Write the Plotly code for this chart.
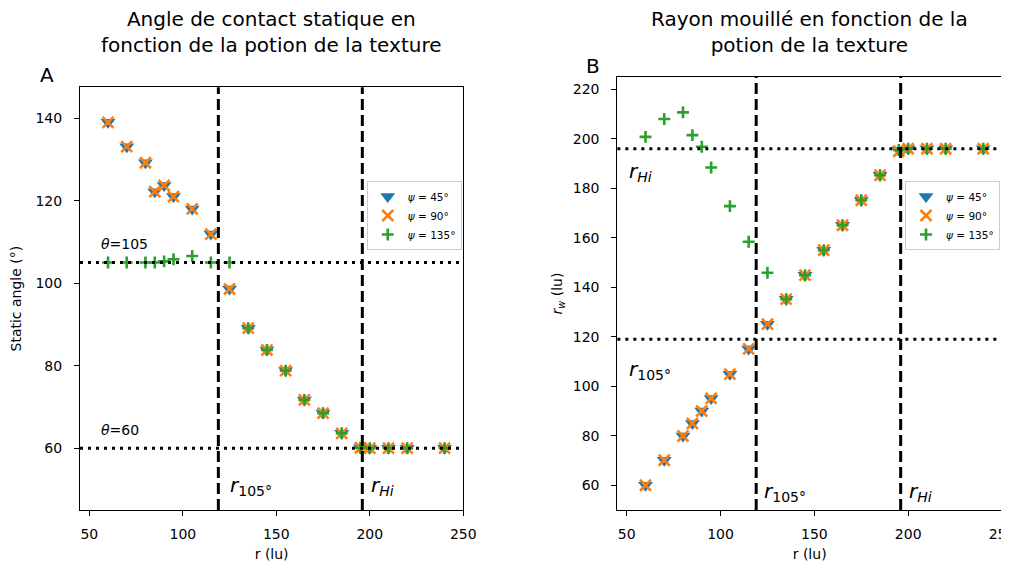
import plotly.graph_objects as go
from plotly.subplots import make_subplots

# texture radius r (lu), same positions in both panels
r = [60, 70, 80, 85, 90, 95, 105, 115, 125, 135, 145, 155, 165, 175, 185, 195, 200, 210, 220, 240]

# A: static contact angle (deg)
angle_45 = [139.0, 133.1, 129.2, 122.2, 123.7, 121.0, 118.0, 111.9, 98.6, 89.1,
            83.8, 78.8, 71.7, 68.5, 63.6, 60.1, 60.0, 60.0, 60.0, 60.0]
angle_90 = [139.0, 133.1, 129.2, 122.2, 123.7, 121.0, 118.0, 111.9, 98.6, 89.1,
            83.8, 78.8, 71.7, 68.5, 63.6, 60.1, 60.0, 60.0, 60.0, 60.0]
angle_135 = [105.0, 105.0, 105.0, 105.0, 105.3, 105.8, 106.6, 105.0, 105.0, 89.1,
             83.8, 78.8, 71.7, 68.5, 63.6, 60.1, 60.0, 60.0, 60.0, 60.0]

# B: wetted radius r_w (lu)
rw_45 = [60.0, 70.1, 79.9, 85.0, 90.0, 95.1, 104.9, 115.1, 125.1, 135.2,
         144.9, 155.0, 165.1, 175.2, 185.3, 195.5, 196.0, 196.0, 196.0, 196.0]
rw_90 = [60.0, 70.1, 79.9, 85.0, 90.0, 95.1, 104.9, 115.1, 125.1, 135.2,
         144.9, 155.0, 165.1, 175.2, 185.3, 195.0, 196.0, 196.0, 196.0, 196.0]
rw_135 = [200.8, 208.0, 210.7, 201.5, 196.8, 188.4, 172.8, 158.4, 145.9, 135.2,
          144.9, 155.0, 165.1, 175.2, 185.3, 195.5, 196.0, 196.0, 196.0, 196.0]

psi_names = ["<i>ψ</i> = 45°", "<i>ψ</i> = 90°", "<i>ψ</i> = 135°"]

# reference levels
r_105 = 119
r_hi = 196
theta_hi = 105
theta_lo = 60

blue, orange, green = "#1f77b4", "#ff7f0e", "#2ca02c"
font = "DejaVu Sans"

markers = [
    dict(symbol="triangle-down", size=13, color=blue),
    dict(symbol="x-thin", size=11, color=orange, line=dict(color=orange, width=2.6)),
    dict(symbol="cross-thin", size=8.5, color=green, line=dict(color=green, width=2.6)),
]

fig = make_subplots(rows=1, cols=2)

for ys, name, mk in zip([angle_45, angle_90, angle_135], psi_names, markers):
    fig.add_trace(go.Scatter(x=r, y=ys, mode="markers", name=name, marker=mk,
                             legend="legend"), row=1, col=1)
for ys, name, mk in zip([rw_45, rw_90, rw_135], psi_names, markers):
    fig.add_trace(go.Scatter(x=r, y=ys, mode="markers", name=name, marker=mk,
                             legend="legend2"), row=1, col=2)

dashed = dict(color="black", width=3, dash="11px,5px")
dotted = dict(color="black", width=3, dash="3px,5px")

for xv in [r_105, r_hi]:
    fig.add_vline(x=xv, line=dashed, row=1, col=1)
    fig.add_vline(x=xv, line=dashed, row=1, col=2)
for yv in [theta_hi, theta_lo]:
    fig.add_hline(y=yv, line=dotted, row=1, col=1)
for yv in [r_hi, r_105]:
    fig.add_hline(y=yv, line=dotted, row=1, col=2)

axis_style = dict(showline=True, linecolor="black", linewidth=1, mirror=True,
                  ticks="outside", ticklen=5, tickcolor="black", showgrid=False,
                  zeroline=False, automargin=False, ticklabeloverflow="allow",
                  tickfont=dict(size=14, color="black"))

fig.update_xaxes(axis_style)
fig.update_yaxes(axis_style)
fig.update_xaxes(range=[45, 250], tick0=0, dtick=50, ticklabelstandoff=6,
                 title=dict(text="r (lu)", font=dict(size=14), standoff=8))
fig.update_yaxes(ticklabelstandoff=9)
fig.update_xaxes(domain=[0, 0.4157], row=1, col=1)
fig.update_xaxes(domain=[0.5828, 1], row=1, col=2)
fig.update_yaxes(range=[45, 147.5], tick0=0, dtick=20, domain=[0, 0.9762],
                 title=dict(text="Static angle (°)", font=dict(size=14), standoff=12),
                 row=1, col=1)
fig.update_yaxes(range=[50, 225], tick0=0, dtick=20, domain=[0, 1],
                 title=dict(text="<i>r<sub>w</sub></i> (lu)", font=dict(size=14), standoff=6),
                 row=1, col=2)

txt = dict(size=14, color="black")
big = dict(size=20, color="black")
annotations = [
    dict(text="<i>θ</i>=105", x=55, y=107, xref="x", yref="y", xanchor="left",
         yanchor="bottom", showarrow=False, font=txt),
    dict(text="<i>θ</i>=60", x=55, y=62, xref="x", yref="y", xanchor="left",
         yanchor="bottom", showarrow=False, font=txt),
    dict(text="<i>r</i><sub>105°</sub>", x=124, y=50.8, xref="x", yref="y",
         xanchor="left", yanchor="middle", showarrow=False, font=big),
    dict(text="<i>r<sub>Hi</sub></i>", x=199.5, y=50.8, xref="x", yref="y",
         xanchor="left", yanchor="middle", showarrow=False, font=big),
    dict(text="<i>r<sub>Hi</sub></i>", x=50, y=186.5, xref="x2", yref="y2",
         xanchor="left", yanchor="middle", showarrow=False, font=big),
    dict(text="<i>r</i><sub>105°</sub>", x=50, y=106.5, xref="x2", yref="y2",
         xanchor="left", yanchor="middle", showarrow=False, font=big),
    dict(text="<i>r</i><sub>105°</sub>", x=122, y=57.2, xref="x2", yref="y2",
         xanchor="left", yanchor="middle", showarrow=False, font=big),
    dict(text="<i>r<sub>Hi</sub></i>", x=199.5, y=57.2, xref="x2", yref="y2",
         xanchor="left", yanchor="middle", showarrow=False, font=big),
    # panel titles and letters
    dict(text="Angle de contact statique en<br>fonction de la potion de la texture",
         x=0.2079, y=1.166, xref="paper", yref="paper", xanchor="center",
         yanchor="top", showarrow=False, font=big),
    dict(text="Rayon mouillé en fonction de la<br>potion de la texture",
         x=0.7912, y=1.166, xref="paper", yref="paper", xanchor="center",
         yanchor="top", showarrow=False, font=big),
    dict(text="A", x=-0.0358, y=1.0046, xref="paper", yref="paper",
         xanchor="center", yanchor="middle", showarrow=False, font=big),
    dict(text="B", x=0.5564, y=1.0254, xref="paper", yref="paper",
         xanchor="center", yanchor="middle", showarrow=False, font=big),
]

legend_style = dict(bgcolor="rgba(255,255,255,0.8)", bordercolor="#cccccc",
                    borderwidth=1, font=dict(size=10.5, color="black"),
                    xanchor="left", yanchor="top", tracegroupgap=0)

# the page body keeps its default 8px margin, so the figure is 8px smaller
fig.update_layout(
    width=1001, height=560,
    margin=dict(l=72, r=7, t=69, b=58),
    paper_bgcolor="white", plot_bgcolor="white",
    font=dict(family=font, color="black"),
    annotations=annotations,
    legend=dict(legend_style, x=0.311, y=0.7598),
    legend2=dict(legend_style, x=0.8948, y=0.7598),
)

fig.write_html("out.html")
